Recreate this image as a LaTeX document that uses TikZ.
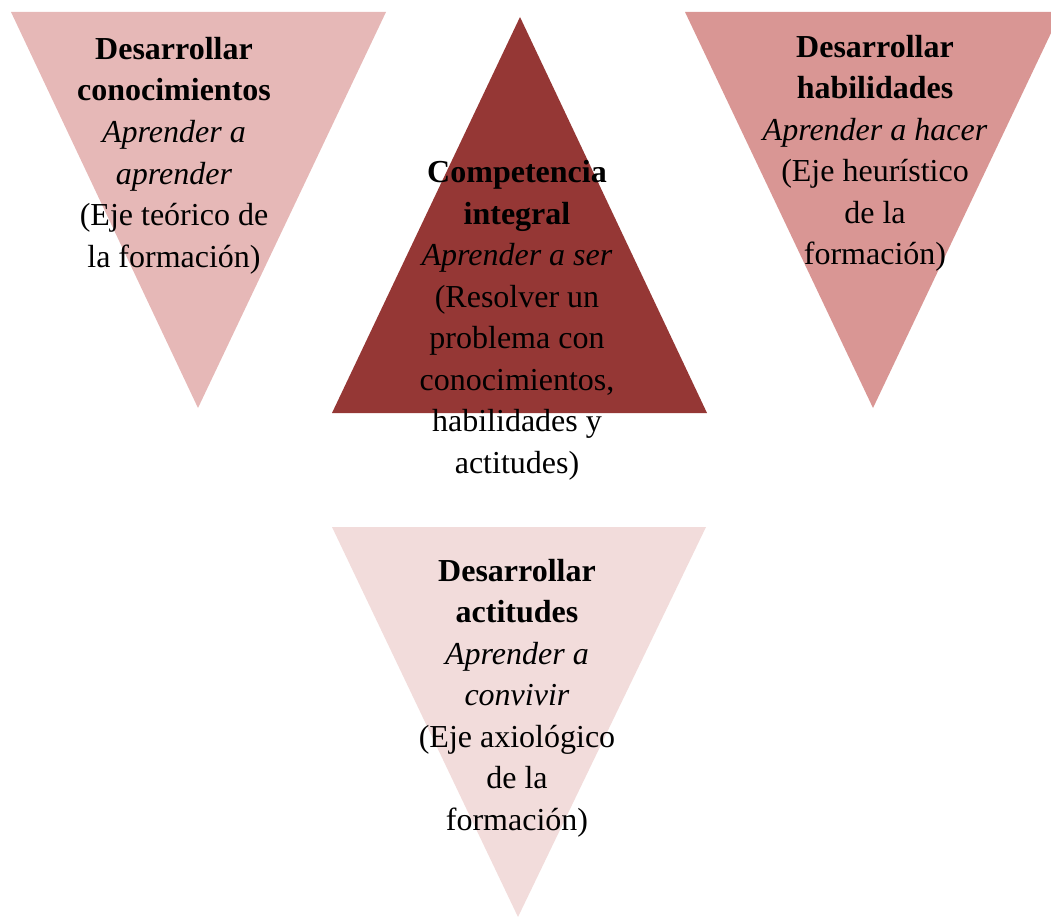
\documentclass[tikz,border=0pt]{standalone}
\usepackage{fontspec}
\setmainfont{Liberation Serif}
\definecolor{triA}{HTML}{E6B8B7}
\definecolor{triB}{HTML}{953735}
\definecolor{triC}{HTML}{D99694}
\definecolor{triD}{HTML}{F2DCDB}
\tikzset{
  lbl/.style={anchor=base, align=center, inner sep=0pt, text=black,
    font=\fontsize{32}{41.5}\selectfont}
}
\begin{document}
\begin{tikzpicture}[x=1pt,y=-1pt]
\useasboundingbox (0,0) rectangle (1051,917);
% triangles
\fill[triA] (11,12) -- (386,12) -- (198,408) -- cycle;
\fill[triC] (685,12) -- (1061,12) -- (873,408) -- cycle;
\fill[triB] (520,17) -- (707,413) -- (332,413) -- cycle;
\fill[triD] (332,527) -- (706,527) -- (518,917) -- cycle;
% texts (base anchor = baseline of last line)
\node[lbl] (t1) at (174,267) {\textbf{Desarrollar}\\\textbf{conocimientos}\\\textit{Aprender a}\\\textit{aprender}\\(Eje teórico de\\la formación)};
\node[lbl] (t2) at (517,473) {\textbf{Competencia}\\\textbf{integral}\\\textit{Aprender a ser}\\(Resolver un\\problema con\\conocimientos,\\habilidades y\\actitudes)};
\node[lbl] (t3) at (875,265) {\textbf{Desarrollar}\\\textbf{habilidades}\\\textit{Aprender a hacer}\\(Eje heurístico\\de la\\formación)};
\node[lbl] (t4) at (517,830) {\textbf{Desarrollar}\\\textbf{actitudes}\\\textit{Aprender a}\\\textit{convivir}\\(Eje axiológico\\de la\\formación)};
\end{tikzpicture}
\end{document}
